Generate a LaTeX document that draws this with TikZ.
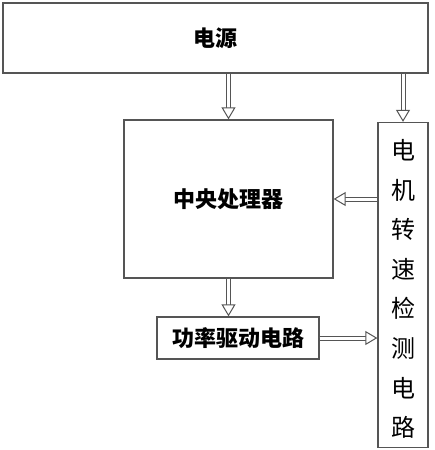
\documentclass[tikz,border=0pt]{standalone}
\usepackage{fontspec}
\setmainfont{Noto Sans CJK SC}
\usetikzlibrary{arrows.meta, positioning, calc}
\definecolor{edge}{RGB}{85,85,85}

\begin{document}
\begin{tikzpicture}[x=1pt, y=-1pt,
  blk/.style={draw=edge, line width=1.3pt, fill=white, inner sep=0pt},
  title/.style={font=\fontsize{22}{26}\selectfont\bfseries},
  hollow/.style={draw=edge, line width=1pt, double=white, double distance=3pt,
    -{Triangle[open, length=12pt, width=14pt, fill=white]}}]
  \useasboundingbox (0,0) rectangle (434,450);
  % blocks
  \node[blk, title, minimum width=425pt, minimum height=70pt] (power) at (215.5,38) {电源};
  \node[blk, title, minimum width=209pt, minimum height=158pt] (cpu) at (228.5,199) {中央处理器};
  \node[blk, minimum width=50pt, minimum height=325pt] (speed) at (403,285) {};
  \node[align=center, font=\fontsize{24}{39.6}\selectfont, yshift=-4pt] (speedtxt)
    at (speed.center) {电\\机\\转\\速\\检\\测\\电\\路};
  \node[blk, title, minimum width=162pt, minimum height=42pt] (drive) at (238,338) {功率驱动电路};
  % connectors
  \draw[hollow] (cpu.north |- power.south) -- (cpu.north);
  \draw[hollow] (speed.north |- power.south) -- (speed.north);
  \draw[hollow] (speed.west |- cpu.east) -- (cpu.east);
  \draw[hollow] (cpu.south) -- (cpu.south |- drive.north);
  \draw[hollow] (drive.east) -- (drive.east -| speed.west);
\end{tikzpicture}
\end{document}
